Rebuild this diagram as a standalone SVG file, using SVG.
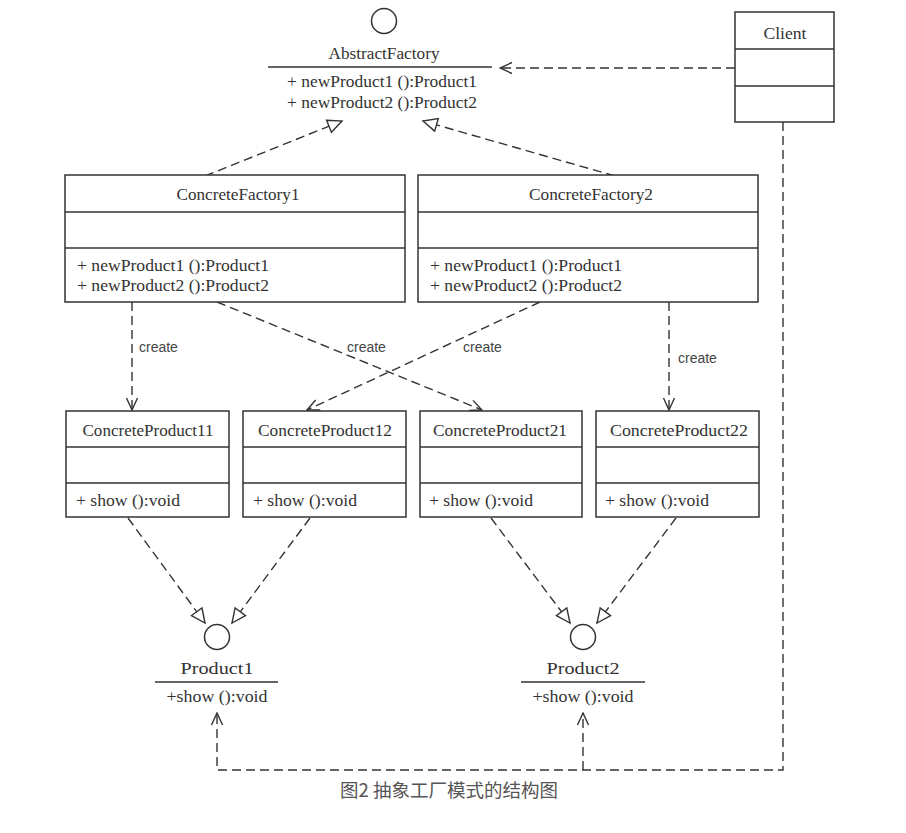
<svg xmlns="http://www.w3.org/2000/svg" width="906" height="833" viewBox="0 0 906 833">
<style>
.box{fill:#fff;stroke:#333;stroke-width:1.5}
.div{stroke:#333;stroke-width:1.5}
.t{font-family:"Liberation Serif","Times New Roman",serif;font-size:17.5px;fill:#333}
.c{text-anchor:middle}
.lbl{font-family:"Liberation Sans",Arial,sans-serif;font-size:14px;fill:#444}
.dash{fill:none;stroke:#333;stroke-width:1.4;stroke-dasharray:9 5}
.cap{font-family:"Noto Sans CJK SC","Noto Sans",sans-serif;font-size:18.5px;fill:#555;text-anchor:middle}
</style>
<defs>
<marker id="tri" viewBox="-2 -9 18 18" refX="14" refY="0" markerWidth="18" markerHeight="18" markerUnits="userSpaceOnUse" orient="auto">
<path d="M0,-6.5 L14,0 L0,6.5 Z" fill="#fff" stroke="#333" stroke-width="1.4" stroke-dasharray="none"/>
</marker>
<marker id="open" viewBox="-2 -7 15 14" refX="12" refY="0" markerWidth="15" markerHeight="14" markerUnits="userSpaceOnUse" orient="auto">
<path d="M0,-5.5 L12,0 L0,5.5" fill="none" stroke="#333" stroke-width="1.4" stroke-dasharray="none"/>
</marker>
</defs>
<rect width="906" height="833" fill="#fff"/>

<g id="connectors">
<path class="dash" d="M735,68 H500" marker-end="url(#open)"/>
<path class="dash" d="M205,176 L342,121" marker-end="url(#tri)"/>
<path class="dash" d="M615,176 L423,121" marker-end="url(#tri)"/>
<path class="dash" d="M132,302 V410" marker-end="url(#open)"/>
<path class="dash" d="M217,302 L482,410" marker-end="url(#open)"/>
<path class="dash" d="M540,302 L307,410" marker-end="url(#open)"/>
<path class="dash" d="M669,302 V410" marker-end="url(#open)"/>
<path class="dash" d="M128,518 L205,623" marker-end="url(#tri)"/>
<path class="dash" d="M310,518 L232,623" marker-end="url(#tri)"/>
<path class="dash" d="M491,518 L570,623" marker-end="url(#tri)"/>
<path class="dash" d="M676,518 L597,623" marker-end="url(#tri)"/>
<path class="dash" d="M783,122 V770 H217 V713" marker-end="url(#open)"/>
<path class="dash" d="M583,770 V713" marker-end="url(#open)"/>
<text class="lbl" x="139" y="352">create</text>
<text class="lbl" x="347" y="352">create</text>
<text class="lbl" x="463" y="352">create</text>
<text class="lbl" x="678" y="363">create</text>
</g>

<g id="AbstractFactory">
<circle cx="384" cy="21" r="12.5" fill="#fff" stroke="#333" stroke-width="1.5"/>
<text class="t c" x="384" y="59" textLength="111" lengthAdjust="spacingAndGlyphs">AbstractFactory</text>
<line class="div" x1="268" y1="67" x2="492" y2="67"/>
<text class="t" x="287" y="87" textLength="190" lengthAdjust="spacingAndGlyphs">+ newProduct1 ():Product1</text>
<text class="t" x="287" y="108" textLength="190" lengthAdjust="spacingAndGlyphs">+ newProduct2 ():Product2</text>
</g>

<g id="Client">
<rect class="box" x="735" y="12" width="99" height="110"/>
<line class="div" x1="735" y1="49" x2="834" y2="49"/>
<line class="div" x1="735" y1="86" x2="834" y2="86"/>
<text class="t c" x="785" y="39" textLength="43" lengthAdjust="spacingAndGlyphs">Client</text>
</g>

<g id="ConcreteFactory1">
<rect class="box" x="65" y="175" width="340" height="127"/>
<line class="div" x1="65" y1="212" x2="405" y2="212"/>
<line class="div" x1="65" y1="248" x2="405" y2="248"/>
<text class="t c" x="238" y="200" textLength="123" lengthAdjust="spacingAndGlyphs">ConcreteFactory1</text>
<text class="t" x="77" y="271" textLength="192" lengthAdjust="spacingAndGlyphs">+ newProduct1 ():Product1</text>
<text class="t" x="77" y="291" textLength="192" lengthAdjust="spacingAndGlyphs">+ newProduct2 ():Product2</text>
</g>

<g id="ConcreteFactory2">
<rect class="box" x="418" y="175" width="340" height="127"/>
<line class="div" x1="418" y1="212" x2="758" y2="212"/>
<line class="div" x1="418" y1="248" x2="758" y2="248"/>
<text class="t c" x="591" y="200" textLength="124" lengthAdjust="spacingAndGlyphs">ConcreteFactory2</text>
<text class="t" x="430" y="271" textLength="192" lengthAdjust="spacingAndGlyphs">+ newProduct1 ():Product1</text>
<text class="t" x="430" y="291" textLength="192" lengthAdjust="spacingAndGlyphs">+ newProduct2 ():Product2</text>
</g>

<g id="ConcreteProduct11">
<rect class="box" x="66" y="411" width="163" height="106"/>
<line class="div" x1="66" y1="447" x2="229" y2="447"/>
<line class="div" x1="66" y1="483" x2="229" y2="483"/>
<text class="t c" x="148" y="436" textLength="131" lengthAdjust="spacingAndGlyphs">ConcreteProduct11</text>
<text class="t" x="76" y="506" textLength="104" lengthAdjust="spacingAndGlyphs">+ show ():void</text>
</g>

<g id="ConcreteProduct12">
<rect class="box" x="243" y="411" width="163" height="106"/>
<line class="div" x1="243" y1="447" x2="406" y2="447"/>
<line class="div" x1="243" y1="483" x2="406" y2="483"/>
<text class="t c" x="325" y="436" textLength="134" lengthAdjust="spacingAndGlyphs">ConcreteProduct12</text>
<text class="t" x="253" y="506" textLength="104" lengthAdjust="spacingAndGlyphs">+ show ():void</text>
</g>

<g id="ConcreteProduct21">
<rect class="box" x="420" y="411" width="162" height="106"/>
<line class="div" x1="420" y1="447" x2="582" y2="447"/>
<line class="div" x1="420" y1="483" x2="582" y2="483"/>
<text class="t c" x="500" y="436" textLength="134" lengthAdjust="spacingAndGlyphs">ConcreteProduct21</text>
<text class="t" x="429" y="506" textLength="104" lengthAdjust="spacingAndGlyphs">+ show ():void</text>
</g>

<g id="ConcreteProduct22">
<rect class="box" x="596" y="411" width="163" height="106"/>
<line class="div" x1="596" y1="447" x2="759" y2="447"/>
<line class="div" x1="596" y1="483" x2="759" y2="483"/>
<text class="t c" x="679" y="436" textLength="138" lengthAdjust="spacingAndGlyphs">ConcreteProduct22</text>
<text class="t" x="605" y="506" textLength="104" lengthAdjust="spacingAndGlyphs">+ show ():void</text>
</g>

<g id="Product1">
<circle cx="217" cy="637" r="12.5" fill="#fff" stroke="#333" stroke-width="1.5"/>
<text class="t c" x="217" y="674" textLength="73" lengthAdjust="spacingAndGlyphs">Product1</text>
<line class="div" x1="155" y1="682" x2="278" y2="682"/>
<text class="t c" x="217" y="702" textLength="101" lengthAdjust="spacingAndGlyphs">+show ():void</text>
</g>

<g id="Product2">
<circle cx="583" cy="637" r="12.5" fill="#fff" stroke="#333" stroke-width="1.5"/>
<text class="t c" x="583" y="674" textLength="73" lengthAdjust="spacingAndGlyphs">Product2</text>
<line class="div" x1="521" y1="682" x2="645" y2="682"/>
<text class="t c" x="583" y="702" textLength="101" lengthAdjust="spacingAndGlyphs">+show ():void</text>
</g>

<text class="cap" x="449" y="797">图2 抽象工厂模式的结构图</text>
</svg>
